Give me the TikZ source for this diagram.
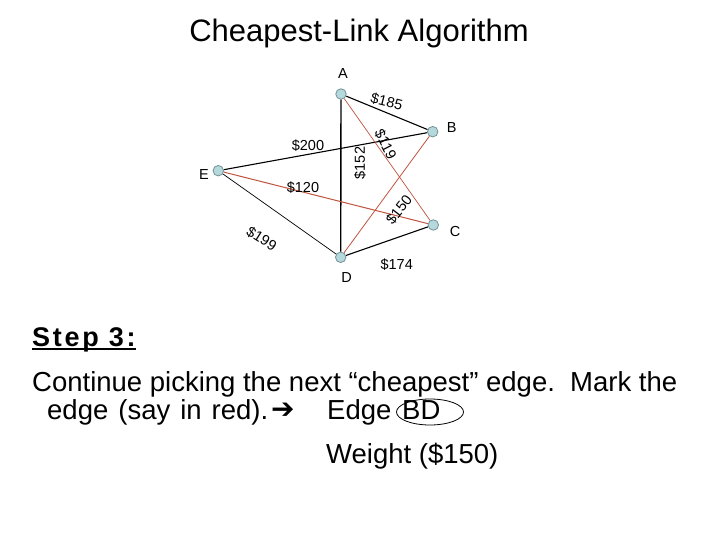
\documentclass[tikz,border=0pt]{standalone}
\usepackage{fontspec}
\setmainfont{Liberation Sans}
\newfontfamily\dejavu{DejaVu Sans}
\usetikzlibrary{shapes.geometric}
\definecolor{edgered}{RGB}{192,84,62}
\definecolor{nodefill}{RGB}{180,216,220}
\definecolor{nodeline}{RGB}{115,145,150}
\begin{document}
\begin{tikzpicture}[x=1pt,y=-1pt,
  vert/.style={circle,draw=nodeline,line width=0.8pt,fill=nodefill,inner sep=0pt,minimum size=10.5pt},
  lbl/.style={font=\fontsize{14.5}{16}\selectfont,inner sep=0pt},
  body/.style={font=\fontsize{27.5}{30}\selectfont,inner sep=0pt,anchor=base west},
  blk/.style={draw=black},
  red/.style={draw=edgered}]
\useasboundingbox[fill=white] (0,0) rectangle (720,540);
% title
\node[font=\fontsize{31}{34}\selectfont,inner sep=0pt,anchor=base] (title) at (359,42) {Cheapest-Link Algorithm};
% vertices
\node[vert] (A) at (341,94) {};
\node[vert] (B) at (432.7,131.7) {};
\node[vert] (C) at (433.3,225) {};
\node[vert] (D) at (340.7,257.3) {};
\node[vert] (E) at (218.3,170.7) {};
% vertex labels
\node[lbl] (lA) at (343,74) {A};
\node[lbl] (lB) at (451.7,128) {B};
\node[lbl] (lC) at (455,231.7) {C};
\node[lbl] (lD) at (346.7,278) {D};
\node[lbl] (lE) at (204,175) {E};
% edges
\draw[blk,line width=1.1pt] (A) -- (B);
\draw[blk,line width=1.4pt] (A) -- (D);
\draw[blk,line width=1.1pt] (E) -- (B);
\draw[blk,line width=0.7pt] (E) -- (D);
\draw[blk,line width=1.1pt] (D) -- (C);
\draw[red,line width=0.7pt] (A) -- (C);
\draw[red,line width=1.0pt] (E) -- (C);
\draw[red,line width=0.8pt] (D) -- (B);
% edge labels
\node[lbl,rotate=-14] (wAB) at (386.7,101.7) {\$185};
\node[lbl] (wEB) at (308,146) {\$200};
\node[lbl,rotate=90] (wAD) at (360,163) {\$152};
\node[lbl,rotate=-63] (wAC) at (385.5,144.5) {\$119};
\node[lbl] (wEC) at (303,188) {\$120};
\node[lbl,rotate=52] (wDB) at (399,210) {\$150};
\node[lbl,rotate=-32] (wED) at (261.7,238.7) {\$199};
\node[lbl] (wDC) at (396.7,265) {\$174};
% text
\node[inner sep=0pt,anchor=base west,font=\fontsize{27}{30}\selectfont\bfseries\addfontfeatures{LetterSpace=10}] (step) at (32,346) {Step 3:};
\draw[line width=1.8pt] ([yshift=-3pt]step.base west) -- ([yshift=-3pt]step.base east);
\node[body] (l1) at (32,391) {Continue picking the next “cheapest” edge.\ \ Mark the};
\node[body] (l2) at (47,419) {\spaceskip=10pt edge (say in red).};
\node[inner sep=0pt,anchor=base west,font=\dejavu\fontsize{28}{30}\selectfont] (arr) at (271,418) {➔};
\node[body] (l2b) at (327,419) {Edge};
\node[body] (l2c) at (402,419) {BD};
\node[draw,ellipse,line width=0.8pt,inner sep=0pt,minimum width=67pt,minimum height=26pt] (circ) at (430,412) {};
\node[body] (l3) at (326,463) {Weight (\$150)};
\end{tikzpicture}
\end{document}
